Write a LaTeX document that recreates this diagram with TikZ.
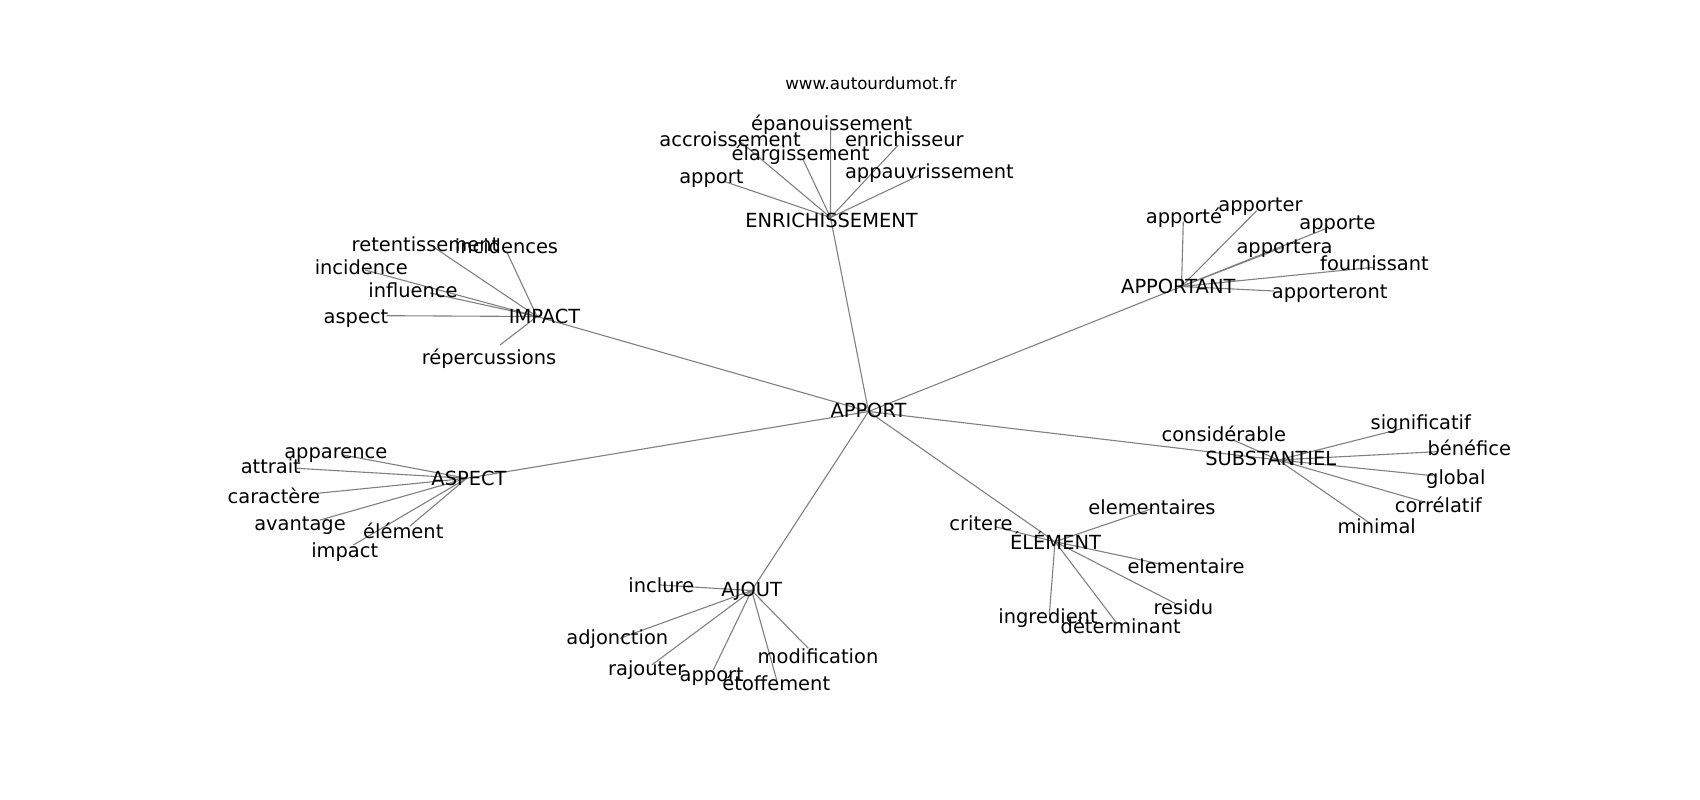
\documentclass[tikz,border=0pt]{standalone}
\usepackage{fontspec}
\setmainfont{DejaVu Sans}
\begin{document}
\begin{tikzpicture}[x=1pt,y=-1pt,
  lbl/.style={inner sep=0pt, text height=0.6em, text depth=0pt, anchor=center, yshift=-4pt, font=\fontsize{19.44}{23}\selectfont},
  hub/.style={lbl, text height=0.73em},
  ttl/.style={inner sep=0pt, text height=0.6em, text depth=0pt, anchor=center, yshift=-3.5pt, font=\fontsize{16.67}{20}\selectfont},
  edge/.style={draw=black!50, line width=1.1pt}]
\useasboundingbox (0,0) rectangle (1700,800);
% ---- vertices
\coordinate (vAPPORT) at (868.5,411.5);
\coordinate (vENR) at (830.5,217.5);
\coordinate (vIMP) at (537,316.5);
\coordinate (vAPT) at (1181.5,286.5);
\coordinate (vASP) at (466.7,478.3);
\coordinate (vSUB) at (1278.3,460);
\coordinate (vELE) at (1055,541.7);
\coordinate (vAJO) at (751.7,590.5);
% ENRICHISSEMENT leaves
\coordinate (ve1) at (725,181.7);
\coordinate (ve2) at (738.3,140);
\coordinate (ve3) at (830.7,126.7);
\coordinate (ve4) at (803.3,160);
\coordinate (ve5) at (898.3,145);
\coordinate (ve6) at (920,175);
% IMPACT leaves
\coordinate (vi1) at (433,246.7);
\coordinate (vi2) at (506.7,251.7);
\coordinate (vi3) at (365,270);
\coordinate (vi4) at (430,293);
\coordinate (vi5) at (386.7,315.7);
\coordinate (vi6) at (500,345);
% APPORTANT leaves
\coordinate (vp1) at (1183.3,221.7);
\coordinate (vp2) at (1256.7,210.7);
\coordinate (vp3) at (1326.7,228.3);
\coordinate (vp4) at (1282,247.5);
\coordinate (vp5) at (1373.3,267.3);
\coordinate (vp6) at (1274,291);
% ASPECT leaves
\coordinate (va1) at (343.3,455);
\coordinate (va2) at (296.7,468.3);
\coordinate (va3) at (317.5,493.3);
\coordinate (va4) at (320,520);
\coordinate (va5) at (410,526);
\coordinate (va6) at (353.3,545);
% SUBSTANTIEL leaves
\coordinate (vs1) at (1233.3,440);
\coordinate (vs2) at (1403.3,428.3);
\coordinate (vs3) at (1436.7,451.7);
\coordinate (vs4) at (1433.3,475.7);
\coordinate (vs5) at (1423.3,501.7);
\coordinate (vs6) at (1370,523.3);
% ELEMENT leaves
\coordinate (vl1) at (995,526.7);
\coordinate (vl2) at (1153.3,508.3);
\coordinate (vl3) at (1160,564);
\coordinate (vl4) at (1175,603.3);
\coordinate (vl5) at (1049.3,615);
\coordinate (vl6) at (1116.7,623);
% AJOUT leaves
\coordinate (vj1) at (660,585);
\coordinate (vj2) at (620,638.3);
\coordinate (vj3) at (651.7,665);
\coordinate (vj4) at (713.3,670);
\coordinate (vj5) at (808.3,648.3);
\coordinate (vj6) at (776.7,680);
% ---- edges
\foreach \h in {vENR,vIMP,vAPT,vASP,vSUB,vELE,vAJO} \draw[edge] (vAPPORT) -- (\h);
\foreach \l in {ve1,ve2,ve3,ve4,ve5,ve6} \draw[edge] (vENR) -- (\l);
\foreach \l in {vi1,vi2,vi3,vi4,vi5,vi6} \draw[edge] (vIMP) -- (\l);
\foreach \l in {vp1,vp2,vp3,vp4,vp5,vp6} \draw[edge] (vAPT) -- (\l);
\foreach \l in {va1,va2,va3,va4,va5,va6} \draw[edge] (vASP) -- (\l);
\foreach \l in {vs1,vs2,vs3,vs4,vs5,vs6} \draw[edge] (vSUB) -- (\l);
\foreach \l in {vl1,vl2,vl3,vl4,vl5,vl6} \draw[edge] (vELE) -- (\l);
\foreach \l in {vj1,vj2,vj3,vj4,vj5,vj6} \draw[edge] (vAJO) -- (\l);
% ---- labels
\node[ttl] (title) at (871,82.7) {www.autourdumot.fr};
\node[hub] (APPORT) at (868.5,410) {APPORT};
\node[hub] (ENR) at (831.5,220) {ENRICHISSEMENT};
\node[hub] (IMP) at (544.5,316) {IMPACT};
\node[hub] (APT) at (1178.3,286) {APPORTANT};
\node[hub] (ASP) at (469,478) {ASPECT};
\node[hub] (SUB) at (1270.8,457.7) {SUBSTANTIEL};
\node[hub] (ELE) at (1055.5,541.7) {ÉLÉMENT};
\node[hub] (AJO) at (751.7,589.3) {AJOUT};
\node[lbl] (e1) at (711.3,176.7) {apport};
\node[lbl] (e2) at (730,139) {accroissement};
\node[lbl] (e3) at (831.7,123.3) {épanouissement};
\node[lbl] (e4) at (800.5,153.3) {élargissement};
\node[lbl] (e5) at (904.3,139) {enrichisseur};
\node[lbl] (e6) at (929.4,171.7) {appauvrissement};
\node[lbl] (i1) at (425.5,244.3) {retentissement};
\node[lbl] (i2) at (506.5,246.7) {incidences};
\node[lbl] (i3) at (361.3,267.3) {incidence};
\node[lbl] (i4) at (413,290) {influence};
\node[lbl] (i5) at (356,316) {aspect};
\node[lbl] (i6) at (489,357.8) {répercussions};
\node[lbl] (p1) at (1184,216.7) {apporté};
\node[lbl] (p2) at (1260.5,204) {apporter};
\node[lbl] (p3) at (1337.5,222.7) {apporte};
\node[lbl] (p4) at (1284.5,246.7) {apportera};
\node[lbl] (p5) at (1374.5,263.3) {fournissant};
\node[lbl] (p6) at (1329.7,291.7) {apporteront};
\node[lbl] (a1) at (335.8,451) {apparence};
\node[lbl] (a2) at (270.8,466) {attrait};
\node[lbl] (a3) at (273.8,496.7) {caractère};
\node[lbl] (a4) at (300,523.3) {avantage};
\node[lbl] (a5) at (403.3,531) {élément};
\node[lbl] (a6) at (344.7,550) {impact};
\node[lbl] (s1) at (1223.8,434.3) {considérable};
\node[lbl] (s2) at (1420.8,422.3) {significatif};
\node[lbl] (s3) at (1469.3,448.3) {bénéfice};
\node[lbl] (s4) at (1455.8,477.7) {global};
\node[lbl] (s5) at (1438.3,505.7) {corrélatif};
\node[lbl] (s6) at (1376.7,526.7) {minimal};
\node[lbl] (l1) at (981,523) {critere};
\node[lbl] (l2) at (1152,507.3) {elementaires};
\node[lbl] (l3) at (1186,566.7) {elementaire};
\node[lbl] (l4) at (1183.4,607.3) {residu};
\node[lbl] (l5) at (1048,616.7) {ingredient};
\node[lbl] (l6) at (1120.7,626.7) {déterminant};
\node[lbl] (j1) at (661.3,585) {inclure};
\node[lbl] (j2) at (617.3,637.7) {adjonction};
\node[lbl] (j3) at (646.7,668.3) {rajouter};
\node[lbl] (j4) at (711.7,674) {apport};
\node[lbl] (j5) at (818,656) {modification};
\node[lbl] (j6) at (776.3,683.3) {étoffement};
\end{tikzpicture}
\end{document}
